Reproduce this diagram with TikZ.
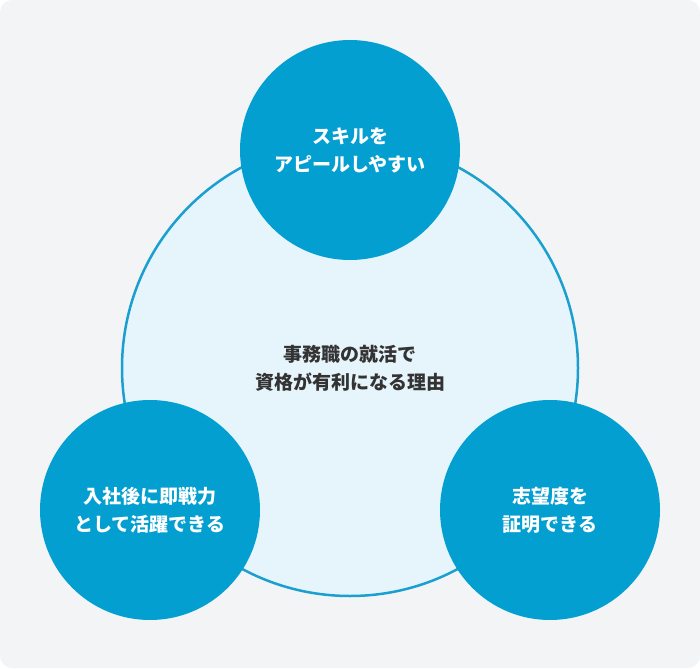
\documentclass[tikz,border=0pt]{standalone}
\usepackage{fontspec}
\newfontfamily\cjk{Noto Sans CJK JP}
\definecolor{bgGray}{HTML}{F3F4F6}
\definecolor{ringBlue}{HTML}{1A9FD0}
\definecolor{paleBlue}{HTML}{E6F4FB}
\definecolor{dotBlue}{HTML}{049FD1}
\definecolor{txtGray}{HTML}{333333}
\tikzset{
	point/.style={circle, fill=dotBlue, minimum size=220pt, inner sep=0pt, text=white, align=center, font=\cjk\bfseries\fontsize{19pt}{28pt}\selectfont},
}
\begin{document}
\begin{tikzpicture}[x=1pt,y=-1pt]
		\fill[bgGray, rounded corners=12pt] (0,0) rectangle (700,668);
		\node[circle, fill=paleBlue, draw=ringBlue, line width=2.5pt, minimum size=456pt, inner sep=0pt, text=txtGray, align=center, font=\cjk\bfseries\fontsize{19pt}{28pt}\selectfont] (reason) at (350,368) {事務職の就活で\\資格が有利になる理由};
		\node[point] (skill) at (350,150) {スキルを\\アピールしやすい};
		\node[point] (ready) at (150,510) {入社後に即戦力\\として活躍できる};
		\node[point] (will) at (550,510) {志望度を\\証明できる};
\end{tikzpicture}
\end{document}
